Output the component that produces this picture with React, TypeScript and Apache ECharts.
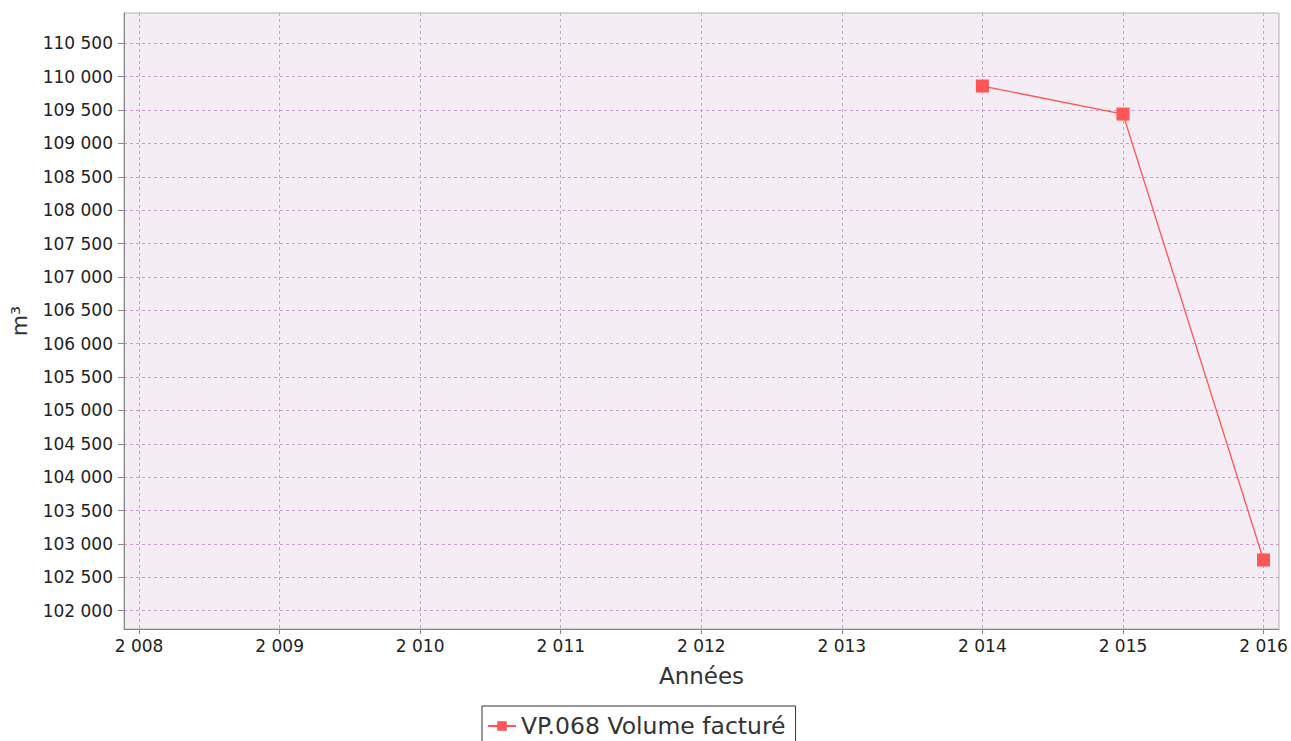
import React, { useEffect, useRef } from "react";
import * as echarts from "echarts";

const years = [2014, 2015, 2016];
const volumes = [109860, 109440, 102760];
const xTicks = [2008, 2009, 2010, 2011, 2012, 2013, 2014, 2015, 2016];
const yTicks = [
  102000, 102500, 103000, 103500, 104000, 104500, 105000, 105500, 106000,
  106500, 107000, 107500, 108000, 108500, 109000, 109500, 110000, 110500,
];
const seriesName = "VP.068 Volume facturé";
const xName = "Années";
const yName = "m³";

const fmt = (v: number) => {
  const s = String(Math.round(v));
  return s.replace(/\B(?=(\d{3})+(?!\d))/g, " ");
};

const FONT = "DejaVu Sans";
const GRID_COLOR = "#c6a2ca";

export default function App() {
  const ref = useRef<HTMLDivElement>(null);
  useEffect(() => {
    document.body.style.margin = "0";
    const chart = echarts.init(ref.current!, null, { renderer: "svg" });
    chart.setOption({
      animation: false,
      backgroundColor: "#ffffff",
      textStyle: { fontFamily: FONT },
      grid: {
        left: 124,
        top: 13,
        right: 12,
        bottom: 112,
        show: true,
        backgroundColor: "#f4edf4",
        borderColor: "#b0b0b0",
        borderWidth: 1,
      },
      xAxis: {
        type: "value",
        min: 2007.893,
        max: 2016.11,
        name: xName,
        nameLocation: "middle",
        nameGap: 35,
        nameTextStyle: { fontSize: 23, color: "#333", fontFamily: FONT },
        axisLine: { show: true, lineStyle: { color: "#888", width: 1 } },
        axisTick: {
          show: true,
          length: 5,
          customValues: xTicks,
          lineStyle: { color: "#888" },
        },
        axisLabel: {
          customValues: xTicks,
          formatter: (v: number) => fmt(v),
          fontSize: 17,
          color: "#222",
          margin: 8,
          fontFamily: FONT,
        },
        splitLine: {
          show: true,
          lineStyle: { color: GRID_COLOR, type: [3, 3], width: 1 },
        },
      },
      yAxis: {
        type: "value",
        min: 101726,
        max: 110954,
        name: yName,
        nameLocation: "middle",
        nameGap: 94,
        nameRotate: 90,
        nameTextStyle: { fontSize: 22, color: "#333", fontFamily: FONT },
        axisLine: { show: true, lineStyle: { color: "#888", width: 1 } },
        axisTick: {
          show: true,
          length: 6,
          customValues: yTicks,
          lineStyle: { color: "#888" },
        },
        axisLabel: {
          customValues: yTicks,
          formatter: (v: number) => fmt(v),
          fontSize: 17,
          color: "#222",
          margin: 11,
          fontFamily: FONT,
        },
        splitLine: {
          show: true,
          lineStyle: { color: GRID_COLOR, type: [3, 3], width: 1 },
        },
      },
      legend: {
        left: 482,
        top: 706,
        padding: [8, 10, 8, 5],
        borderColor: "#333",
        borderWidth: 1,
        itemWidth: 28,
        itemHeight: 12,
        textStyle: { fontSize: 23.5, color: "#333", fontFamily: FONT },
        data: [seriesName],
      },
      series: [
        {
          name: seriesName,
          type: "line",
          data: years.map((y, i) => [y, volumes[i]]),
          symbol: "rect",
          symbolSize: 13,
          lineStyle: { color: "#ff5555", width: 1.3 },
          itemStyle: { color: "#ff5555" },
        },
      ],
    });
    return () => chart.dispose();
  }, []);
  return <div ref={ref} style={{ width: 1291, height: 741 }} />;
}
